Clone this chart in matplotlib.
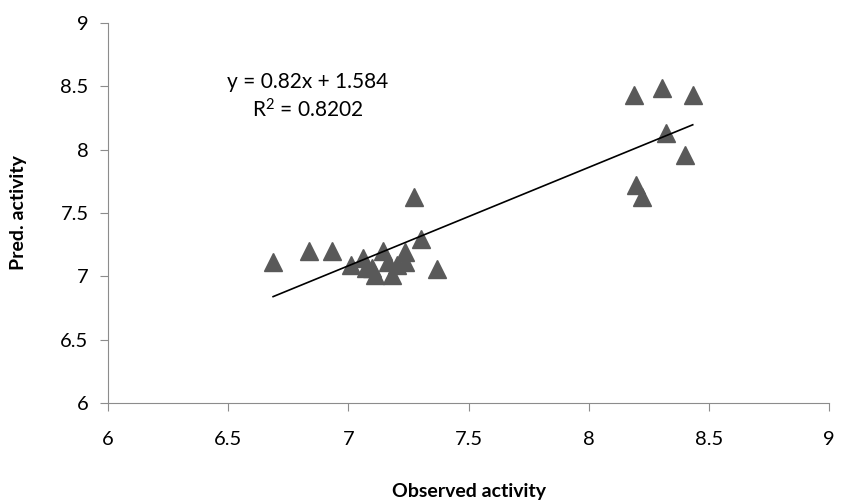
import matplotlib.pyplot as plt

# valores
observado = [6.687, 6.836, 6.932, 7.011, 7.061, 7.144, 7.236, 7.165, 7.099, 7.203,
             7.111, 7.182, 7.236, 7.273, 7.303, 7.369, 7.074,
             8.189, 8.304, 8.433, 8.321, 8.401, 8.197, 8.221]
predito = [7.113, 7.200, 7.200, 7.089, 7.148, 7.200, 7.192, 7.113, 7.062, 7.089,
           7.010, 7.010, 7.113, 7.626, 7.294, 7.058, 7.066,
           8.431, 8.484, 8.431, 8.129, 7.957, 7.721, 7.624]

# linha de tendencia como aparece no desenho
inclinacao = 0.777
intercepto = 1.644
texto_eq = "y = 0.82x + 1.584\nR$^2$ = 0.8202"

ticks = [6, 6.5, 7, 7.5, 8, 8.5, 9]

plt.rcParams["font.family"] = ["Lato", "DejaVu Sans"]
plt.rcParams["mathtext.default"] = "regular"

fig = plt.figure(figsize=(8.47, 5.03), dpi=100)
ax = fig.add_axes([108 / 847, 1 - 403 / 503, (829 - 108) / 847, (403 - 23) / 503])

ax.plot(observado, predito, linestyle="none", marker="^", ms=13,
        color="#595959", mec="#595959")

x0, x1 = min(observado), max(observado)
ax.plot([x0, x1], [inclinacao * x0 + intercepto, inclinacao * x1 + intercepto],
        color="black", lw=1.2)

ax.set_xlim(6, 9)
ax.set_ylim(6, 9)
ax.set_xticks(ticks)
ax.set_yticks(ticks)
ax.set_xticklabels([f"{t:g}" for t in ticks])
ax.set_yticklabels([f"{t:g}" for t in ticks])

for s in ["top", "right"]:
    ax.spines[s].set_visible(False)
for s in ["left", "bottom"]:
    ax.spines[s].set_color("#8c8c8c")
ax.tick_params(colors="#8c8c8c", labelcolor="black", labelsize=14.5,
               length=6, direction="out")
ax.tick_params(axis="x", pad=14)
ax.tick_params(axis="y", pad=8)

ax.text((308 - 108) / 721, (403 - 97) / 380, texto_eq, transform=ax.transAxes,
        ha="center", va="center", fontsize=15, linespacing=1.35)

fig.text(0.5 * (108 + 829) / 847, 1 - 492 / 503, "Observed activity",
         ha="center", va="center", fontsize=14, fontweight="bold")
fig.text(19 / 847, 1 - 213 / 503, "Pred. activity", rotation=90,
         ha="center", va="center", fontsize=14, fontweight="bold")

fig.savefig("out.png", dpi=100)
